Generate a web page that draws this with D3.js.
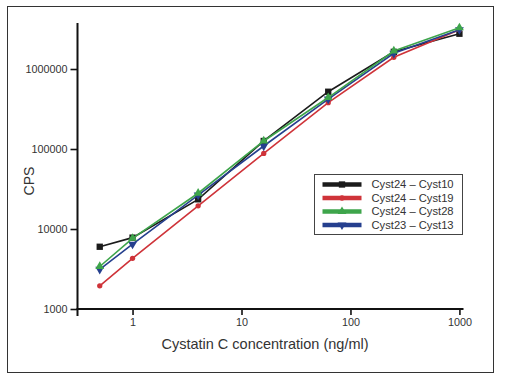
<!DOCTYPE html>
<html>
<head>
<meta charset="utf-8">
<script src="https://cdn.jsdelivr.net/npm/d3@7"></script>
<style>
  html, body { margin: 0; padding: 0; background: #fff; }
  svg { display: block; font-family: "Liberation Sans", Arial, sans-serif; }
</style>
</head>
<body>
<svg id="chart" width="505" height="383"></svg>
<script>
/* ── DATA ─────────────────────────────────────────────────────────────────── */
const concentrations = [0.5, 1, 4, 16, 62.5, 250, 1000];
const cyst10 = [6000, 7800, 23500, 126000, 520000, 1640000, 2760000];
const cyst19 = [1950, 4300, 19500, 88000, 380000, 1400000, 3100000];
const cyst28 = [3400, 7650, 28000, 126000, 440000, 1680000, 3280000];
const cyst13 = [3130, 6450, 26600, 109000, 420000, 1570000, 3100000];
const seriesNames = ['Cyst24 \u2013 Cyst10', 'Cyst24 \u2013 Cyst19', 'Cyst24 \u2013 Cyst28', 'Cyst23 \u2013 Cyst13'];
const yTicks = [1000, 10000, 100000, 1000000];
const xTicks = [1, 10, 100, 1000];

/* ── STYLE ────────────────────────────────────────────────────────────────── */
const SERIES = [
  { name: seriesNames[0], values: cyst10, color: '#1b1b1b', symbol: d3.symbolSquare,   size: 40 },
  { name: seriesNames[1], values: cyst19, color: '#cf3339', symbol: d3.symbolCircle,   size: 22 },
  { name: seriesNames[2], values: cyst28, color: '#3ea54b', symbol: d3.symbolTriangle, size: 34 },
  { name: seriesNames[3], values: cyst13, color: '#253f8e', symbol: d3.symbolTriangle, size: 34, down: true }
];
const DRAW_ORDER = [0, 1, 3, 2];

const svg = d3.select('#chart');

// outer frame
svg.append('rect')
  .attr('x', 7.5).attr('y', 6.5)
  .attr('width', 486).attr('height', 366)
  .attr('fill', '#fff').attr('stroke', '#333').attr('stroke-width', 1);

/* ── SCALES ───────────────────────────────────────────────────────────────── */
const x = d3.scaleLog().domain([0.3125, 1090]).range([77.5, 463.5]);
const y = d3.scaleLog().domain([1000, 3.76e6]).range([309, 23]);

/* ── AXES ─────────────────────────────────────────────────────────────────── */
const yAxis = svg.append('g')
  .attr('transform', `translate(${x.range()[0]},0)`)
  .call(d3.axisLeft(y).tickValues(yTicks).tickFormat(d3.format('d')).tickSize(7).tickSizeOuter(0));

const xAxis = svg.append('g')
  .attr('transform', `translate(0,${y.range()[0]})`)
  .call(d3.axisBottom(x).tickValues(xTicks).tickFormat(d3.format('d')).tickSize(6).tickSizeOuter(0));

[yAxis, xAxis].forEach(g => {
  g.select('.domain').remove();
  g.selectAll('.tick line').attr('stroke', '#111').attr('stroke-width', 1.6);
  g.selectAll('.tick text')
    .attr('fill', '#333')
    .style('font-size', '10.8px')
    .style('font-family', '"Liberation Sans", Arial, sans-serif');
});
yAxis.selectAll('.tick text').attr('x', -10).attr('dy', '0.34em');
xAxis.selectAll('.tick text').attr('y', 9);

// axis lines (y axis overhangs below the x axis)
svg.append('line')
  .attr('x1', x.range()[0]).attr('x2', x.range()[0])
  .attr('y1', y.range()[1]).attr('y2', y.range()[0] + 7)
  .attr('stroke', '#111').attr('stroke-width', 2);
svg.append('line')
  .attr('x1', x.range()[0] - 1).attr('x2', x.range()[1])
  .attr('y1', y.range()[0]).attr('y2', y.range()[0])
  .attr('stroke', '#111').attr('stroke-width', 2);

// axis titles
svg.append('text')
  .attr('x', 265).attr('y', 349)
  .attr('text-anchor', 'middle')
  .attr('fill', '#333')
  .style('font-size', '14.5px')
  .text('Cystatin C concentration (ng/ml)');

svg.append('text')
  .attr('transform', 'translate(34,181) rotate(-90)')
  .attr('text-anchor', 'middle')
  .attr('fill', '#333')
  .style('font-size', '14px')
  .text('CPS');

/* ── SERIES ───────────────────────────────────────────────────────────────── */
const line = d3.line()
  .x((d, i) => x(concentrations[i]))
  .y(d => y(d));

function marker(s) {
  return d3.symbol().type(s.symbol).size(s.size)();
}

DRAW_ORDER.forEach(k => {
  const s = SERIES[k];
  const g = svg.append('g');
  g.append('path')
    .attr('d', line(s.values))
    .attr('fill', 'none')
    .attr('stroke', s.color)
    .attr('stroke-width', 1.6);
  g.selectAll('path.pt')
    .data(s.values)
    .join('path')
    .attr('class', 'pt')
    .attr('d', marker(s))
    .attr('fill', s.color)
    .attr('transform', (d, i) => `translate(${x(concentrations[i])},${y(d)})${s.down ? ' rotate(180)' : ''}`);
});

/* ── LEGEND ───────────────────────────────────────────────────────────────── */
const legend = svg.append('g').attr('transform', 'translate(314.5,174.5)');
legend.append('rect')
  .attr('width', 148).attr('height', 60)
  .attr('fill', '#fff').attr('stroke', '#444').attr('stroke-width', 1);

SERIES.forEach((s, i) => {
  const ry = 10 + i * 13.5;
  legend.append('line')
    .attr('x1', 8).attr('x2', 47)
    .attr('y1', ry).attr('y2', ry)
    .attr('stroke', s.color).attr('stroke-width', 4.5);
  legend.append('path')
    .attr('d', marker(s))
    .attr('fill', s.color)
    .attr('transform', `translate(27.5,${ry})${s.down ? ' rotate(180)' : ''}`);
  legend.append('text')
    .attr('x', 57).attr('y', ry)
    .attr('dy', '0.35em')
    .attr('fill', '#333')
    .style('font-size', '11.2px')
    .text(s.name);
});
</script>
</body>
</html>
